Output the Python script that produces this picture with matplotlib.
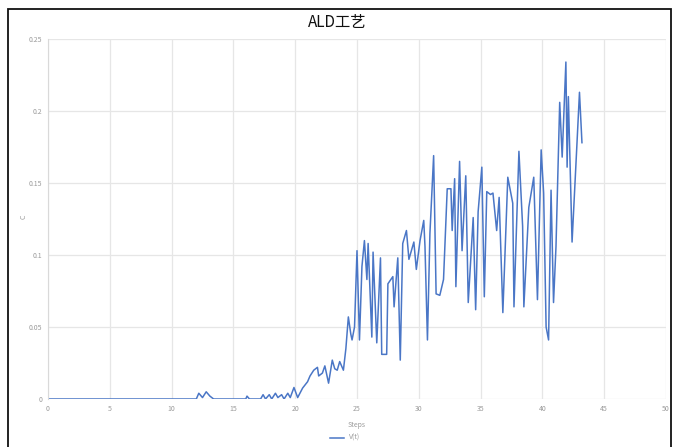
import matplotlib
matplotlib.use("Agg")
import matplotlib.pyplot as plt
from matplotlib.patches import Rectangle

plt.rcParams['font.family'] = ['Noto Sans CJK SC', 'DejaVu Sans']

title = "ALD工艺"
x_label = "Steps"
y_label = "C"
series_name = "V(t)"
x_ticks = [0, 5, 10, 15, 20, 25, 30, 35, 40, 45, 50]
y_ticks = [0, 0.05, 0.1, 0.15, 0.2, 0.25]
y_tick_labels = ["0", "0.05", "0.1", "0.15", "0.2", "0.25"]

steps = [0, 12.0, 12.2, 12.5, 12.8, 13.1, 13.4, 16.0, 16.1, 16.3,
         17.2, 17.4, 17.6, 17.9, 18.1, 18.4, 18.6, 18.9, 19.1, 19.4, 19.6, 19.9, 20.2,
         20.6, 21.0, 21.2, 21.5, 21.8, 21.9, 22.2, 22.4, 22.7, 23.0, 23.2, 23.4, 23.6, 23.9,
         24.1, 24.3, 24.5, 24.6, 24.8, 25.0, 25.2, 25.4, 25.6, 25.8, 25.9, 26.2, 26.3, 26.6,
         26.9, 27.0, 27.4, 27.5, 27.9, 28.0, 28.3, 28.5, 28.7, 29.0, 29.2, 29.6, 29.8, 30.1,
         30.4, 30.5, 30.7, 30.9, 31.2, 31.4, 31.7, 32.0, 32.3, 32.6, 32.7, 32.9, 33.0, 33.3,
         33.5, 33.8, 34.0, 34.4, 34.6, 34.8, 35.1, 35.3, 35.5, 35.8, 36.0, 36.3, 36.5, 36.8,
         37.2, 37.6, 37.7, 38.1, 38.4, 38.5, 38.9, 39.3, 39.6, 39.9, 40.1, 40.3, 40.5, 40.7,
         40.9, 41.1, 41.4, 41.6, 41.9, 42.0, 42.1, 42.4, 42.8, 43.0, 43.2]
values = [0, 0, 0.004, 0.001, 0.005, 0.002, 0.0, 0, 0.002, 0,
          0, 0.003, 0, 0.003, 0, 0.004, 0.001, 0.003, 0.0, 0.004, 0.001, 0.008, 0.001,
          0.0076, 0.012, 0.016, 0.02, 0.022, 0.016, 0.018, 0.023, 0.011, 0.027, 0.021, 0.02, 0.026, 0.02,
          0.035, 0.057, 0.045, 0.041, 0.05, 0.103, 0.041, 0.092, 0.11, 0.083, 0.108, 0.043, 0.102, 0.039,
          0.098, 0.031, 0.031, 0.08, 0.085, 0.064, 0.098, 0.027, 0.108, 0.117, 0.097, 0.109, 0.09, 0.11,
          0.124, 0.106, 0.041, 0.115, 0.169, 0.073, 0.072, 0.083, 0.146, 0.146, 0.117, 0.153, 0.078, 0.165,
          0.103, 0.155, 0.067, 0.126, 0.062, 0.13, 0.161, 0.071, 0.144, 0.142, 0.143, 0.117, 0.14, 0.06,
          0.154, 0.136, 0.064, 0.172, 0.12, 0.064, 0.133, 0.154, 0.069, 0.173, 0.143, 0.05, 0.041, 0.145,
          0.067, 0.106, 0.206, 0.168, 0.234, 0.161, 0.21, 0.109, 0.178, 0.213, 0.178]

W, H = 674, 447
fig = plt.figure(figsize=(W / 100, H / 100), dpi=100)
ax = fig.add_axes([48 / W, 1 - 399 / H, (666 - 48) / W, (399 - 39) / H])

ax.plot(steps, values, color="#4a76c6", lw=1.1, label=series_name)
ax.set_xlim(0, 50)
ax.set_ylim(0, 0.25)
ax.set_xticks(x_ticks)
ax.set_yticks(y_ticks)
ax.set_yticklabels(y_tick_labels)
ax.grid(True, color="#e6e6e6", lw=0.9)
ax.set_axisbelow(True)
for s in ["top", "right", "bottom"]:
    ax.spines[s].set_visible(False)
ax.spines["left"].set_color("#d9d9d9")
ax.tick_params(length=0, labelsize=5, colors="#9a9a9a", pad=4)

ax.set_xlabel(x_label, fontsize=5, color="#9a9a9a", labelpad=6)
fig.text(24 / W, 1 - 217 / H, y_label, fontsize=5, color="#9a9a9a", rotation=90, ha="center", va="center")
fig.text(0.5, 1 - 22 / H, title, fontsize=11, ha="center", va="center", color="#111111")

leg = fig.legend(loc="center", bbox_to_anchor=(345 / W, 1 - 438 / H), frameon=False,
                 fontsize=5, handlelength=2.0, labelcolor="#9a9a9a")

fig.patches.append(Rectangle((8 / W, -0.05), (671 - 8) / W, 1.05 - 9 / H,
                             transform=fig.transFigure, fill=False, edgecolor="#111111", lw=1.3))

fig.savefig("out.png", dpi=100)
